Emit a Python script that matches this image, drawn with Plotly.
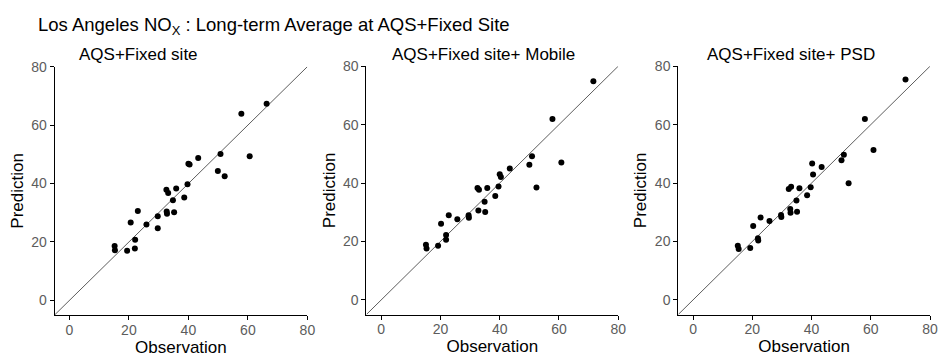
import plotly.graph_objects as go

# Long-term average NOx: observed vs. predicted, three model variants
panel_titles = ["AQS+Fixed site", "AQS+Fixed site+ Mobile", "AQS+Fixed site+ PSD"]

obs_fixed = [66.3, 57.8, 60.6, 50.8, 43.3, 40.0, 40.4, 49.9, 52.2, 39.7, 32.6, 33.2, 35.9, 34.8,
             38.6, 23.0, 32.7, 32.8, 35.2, 29.7, 25.9, 29.7, 20.6, 22.1, 22.0, 19.4, 15.2, 15.3]
pred_fixed = [67.3, 63.9, 49.3, 50.1, 48.7, 46.8, 46.5, 44.3, 42.5, 39.8, 37.9, 36.8, 38.3, 34.3,
              35.2, 30.6, 30.4, 29.7, 30.2, 28.8, 26.0, 24.7, 26.7, 20.8, 17.8, 17.0, 18.6, 17.2]

obs_mobile = [71.6, 57.8, 50.9, 50.0, 60.8, 52.4, 43.4, 40.0, 40.4, 39.6, 38.5, 35.8, 32.5, 33.0,
              34.9, 32.8, 35.1, 29.5, 29.6, 25.7, 22.8, 20.2, 21.9, 21.9, 19.2, 15.1, 15.3]
pred_mobile = [74.8, 61.9, 49.2, 46.3, 47.0, 38.5, 45.0, 43.0, 42.1, 38.8, 35.6, 38.3, 38.3, 37.7,
               33.6, 30.6, 30.1, 29.0, 28.1, 27.6, 29.0, 26.1, 22.2, 20.6, 18.5, 18.9, 17.6]

obs_psd = [71.7, 58.0, 60.9, 50.9, 50.1, 52.5, 43.4, 40.2, 40.5, 39.7, 38.5, 35.9, 32.3, 33.1,
           34.9, 32.8, 32.9, 35.1, 29.7, 29.8, 25.8, 22.8, 20.3, 21.9, 22.0, 19.3, 15.1, 15.4]
pred_psd = [75.4, 61.9, 51.3, 49.7, 47.8, 39.9, 45.5, 46.7, 42.9, 38.6, 35.8, 38.2, 38.0, 38.7,
            34.0, 31.1, 29.8, 30.2, 29.1, 28.4, 27.0, 28.2, 25.3, 21.1, 20.3, 17.8, 18.5, 17.4]

tick_vals = [0, 20, 40, 60, 80]
axis_min, axis_max = -5, 80

W, H = 948, 360
FONT = "Arial, Liberation Sans, sans-serif"

# panel boxes in pixels: (left, right, top, bottom)
boxes = [(55, 310, 60, 314), (369.5, 623.5, 59.5, 313.5), (684, 938, 59.5, 313.5)]
title_left = [78, 393, 711]

series = [(obs_fixed, pred_fixed), (obs_mobile, pred_mobile), (obs_psd, pred_psd)]

fig = go.Figure()
layout = dict(
    width=W, height=H, autosize=False,
    margin=dict(l=0, r=0, t=0, b=0),
    paper_bgcolor="white", plot_bgcolor="white",
    showlegend=False,
    font=dict(family=FONT, color="black"),
)

annotations = []
for i, ((x, y), box) in enumerate(zip(series, boxes)):
    n = "" if i == 0 else str(i + 1)
    xa, ya = "x" + n, "y" + n
    left, right, top, bottom = box
    # 1:1 reference line
    fig.add_trace(go.Scatter(
        x=[axis_min, axis_max], y=[axis_min, axis_max], mode="lines",
        line=dict(color="#333333", width=0.8), xaxis=xa, yaxis=ya, hoverinfo="skip"))
    fig.add_trace(go.Scatter(
        x=x, y=y, mode="markers",
        marker=dict(color="black", size=6, line=dict(width=0)),
        xaxis=xa, yaxis=ya))
    common = dict(
        range=[axis_min, axis_max], tickvals=tick_vals,
        showgrid=False, zeroline=False, showline=True, linecolor="black", linewidth=1,
        ticks="outside", ticklen=4, tickcolor="black", tickwidth=1,
        tickfont=dict(family=FONT, size=14, color="#5c5c5c"),
    )
    layout["xaxis" + n] = dict(
        common, domain=[left / W, right / W], anchor=ya, ticklabelstandoff=-2,
        title=dict(text="Observation", font=dict(family=FONT, size=17, color="black"), standoff=0),
    )
    layout["yaxis" + n] = dict(
        common, domain=[1 - bottom / H, 1 - top / H], anchor=xa,
        title=dict(text="Prediction", font=dict(family=FONT, size=17, color="black"), standoff=3),
    )
    annotations.append(dict(
        text=panel_titles[i], x=title_left[i] / W, y=1 - 47.5 / H,
        xref="paper", yref="paper", xanchor="left", yanchor="middle",
        showarrow=False, font=dict(family=FONT, size=17, color="black")))

annotations.append(dict(
    text="Los Angeles NO<sub>X</sub> : Long-term Average at AQS+Fixed Site",
    x=36 / W, y=1 - 18 / H, xref="paper", yref="paper", xanchor="left", yanchor="middle",
    showarrow=False, font=dict(family=FONT, size=18.5, color="black")))

layout["annotations"] = annotations
fig.update_layout(**layout)
fig.write_html("out.html")
